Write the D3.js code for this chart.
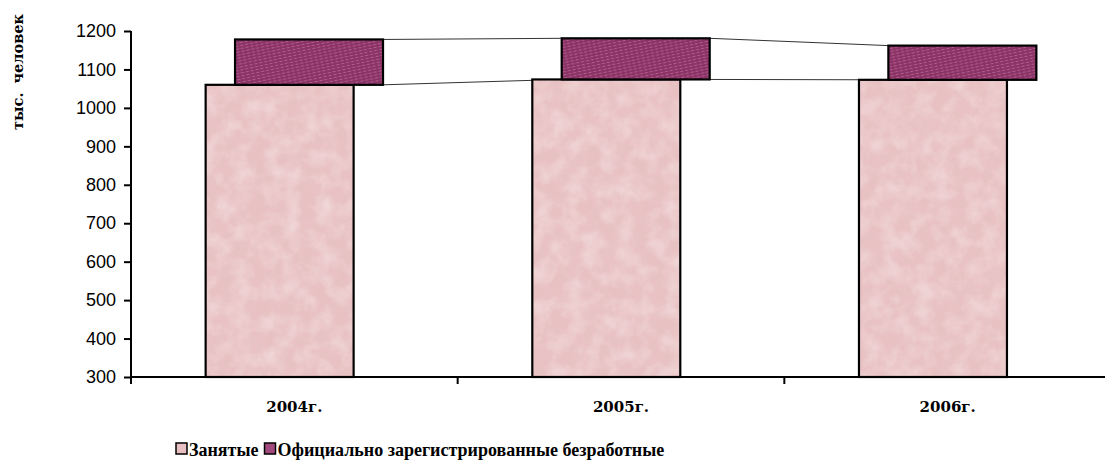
<!DOCTYPE html>
<html>
<head>
<meta charset="utf-8">
<script src="https://cdn.jsdelivr.net/npm/d3@7"></script>
<style>
  body { margin: 0; background: #fff; }
  svg { display: block; }
</style>
</head>
<body>
<div id="chart"></div>
<script>
// data
var years = ["2004г.", "2005г.", "2006г."];
var employed = [1060, 1074, 1073];
var unemployed = [118, 107, 89];
var yTicks = [300, 400, 500, 600, 700, 800, 900, 1000, 1100, 1200];
var seriesNames = ["Занятые", "Официально зарегистрированные безработные"];

var width = 1105, height = 460;
var plot = {left: 131, right: 1111, top: 31, bottom: 377};

var svg = d3.select("#chart").append("svg")
    .attr("width", width)
    .attr("height", height);

var defs = svg.append("defs");

// pink marble texture
var marble = defs.append("filter")
    .attr("id", "marble")
    .attr("x", 0).attr("y", 0).attr("width", 1).attr("height", 1);
marble.append("feTurbulence")
    .attr("type", "fractalNoise")
    .attr("baseFrequency", 0.06)
    .attr("numOctaves", 4)
    .attr("seed", 7)
    .attr("result", "noise");
marble.append("feColorMatrix")
    .attr("in", "noise")
    .attr("type", "matrix")
    .attr("values", "0 0 0 0 0.82  0 0 0 0 0.56  0 0 0 0 0.59  1.0 0 0 0 -0.4")
    .attr("result", "dark");
marble.append("feColorMatrix")
    .attr("in", "noise")
    .attr("type", "matrix")
    .attr("values", "0 0 0 0 0.96  0 0 0 0 0.85  0 0 0 0 0.85  0 0.8 0 0 -0.3")
    .attr("result", "light");
marble.append("feMerge").call(function(m) {
    m.append("feMergeNode").attr("in", "SourceGraphic");
    m.append("feMergeNode").attr("in", "dark");
    m.append("feMergeNode").attr("in", "light");
});

// purple dash pattern
var dash = defs.append("pattern")
    .attr("id", "dash")
    .attr("patternUnits", "userSpaceOnUse")
    .attr("width", 5).attr("height", 3)
    .attr("patternTransform", "rotate(-12)");
dash.append("rect").attr("width", 5).attr("height", 3).attr("fill", "#8a3466");
dash.append("rect").attr("x", 0.5).attr("y", 1).attr("width", 3).attr("height", 1).attr("fill", "#b65c90");

var x = d3.scaleBand()
    .domain(years)
    .range([plot.left, plot.right]);

var y = d3.scaleLinear()
    .domain([300, 1200])
    .range([plot.bottom, plot.top]);

var band = x.bandwidth();
var barW = band * 0.453,
    shift = band * 0.09,
    offset = (band - barW - shift) / 2;

var rows = years.map(function(d, i) {
    return {year: d, emp: employed[i], unemp: unemployed[i], total: employed[i] + unemployed[i]};
});

// series lines
var lines = svg.append("g").attr("class", "series-lines");
for (var i = 0; i < rows.length - 1; i++) {
    var a = rows[i], b = rows[i + 1];
    var x1 = x(a.year) + offset + shift + barW,
        x2 = x(b.year) + offset + shift;
    ["total", "emp"].forEach(function(k) {
        lines.append("line")
            .attr("x1", x1).attr("x2", x2)
            .attr("y1", y(a[k])).attr("y2", y(b[k]))
            .attr("stroke", "#333").attr("stroke-width", 1);
    });
}

// employed bars
var g = svg.append("g");
g.selectAll("rect.base").data(rows).enter().append("rect")
    .attr("class", "base")
    .attr("x", function(d) { return x(d.year) + offset; })
    .attr("y", function(d) { return y(d.emp); })
    .attr("width", barW)
    .attr("height", function(d) { return y(300) - y(d.emp); })
    .attr("fill", "#e8c1c2")
    .attr("filter", "url(#marble)");
g.selectAll("rect.base-edge").data(rows).enter().append("rect")
    .attr("class", "base-edge")
    .attr("x", function(d) { return x(d.year) + offset; })
    .attr("y", function(d) { return y(d.emp); })
    .attr("width", barW)
    .attr("height", function(d) { return y(300) - y(d.emp); })
    .attr("fill", "none")
    .attr("stroke", "#000")
    .attr("stroke-width", 2.2);

// unemployed bars
g.selectAll("rect.top").data(rows).enter().append("rect")
    .attr("class", "top")
    .attr("x", function(d) { return x(d.year) + offset + shift; })
    .attr("y", function(d) { return y(d.total); })
    .attr("width", barW)
    .attr("height", function(d) { return y(d.emp) - y(d.total); })
    .attr("fill", "url(#dash)")
    .attr("stroke", "#000")
    .attr("stroke-width", 2.2);

// axes
var yAxis = svg.append("g")
    .attr("transform", "translate(" + plot.left + ",0)")
    .call(d3.axisLeft(y).tickValues(yTicks).tickSize(7).tickPadding(8).tickFormat(d3.format("d")));
yAxis.select(".domain").attr("stroke-width", 2).attr("d", "M0," + y(300) + "V" + y(1200));
yAxis.selectAll(".tick line").attr("stroke-width", 2);
yAxis.selectAll("text")
    .style("font-family", "'Liberation Sans', Arial, sans-serif")
    .style("font-size", "18px")
    .attr("fill", "#000");

var xAxisG = svg.append("g")
    .attr("transform", "translate(0," + plot.bottom + ")");
xAxisG.append("line")
    .attr("x1", plot.left).attr("x2", width)
    .attr("stroke", "#000").attr("stroke-width", 2);
xAxisG.selectAll("line.tick").data(years.concat(["end"])).enter().append("line")
    .attr("class", "tick")
    .attr("x1", function(d, i) { return plot.left + i * band; })
    .attr("x2", function(d, i) { return plot.left + i * band; })
    .attr("y1", 0).attr("y2", 7)
    .attr("stroke", "#000").attr("stroke-width", 2);
xAxisG.selectAll("text").data(years).enter().append("text")
    .attr("x", function(d) { return x(d) + band / 2; })
    .attr("y", 35)
    .attr("text-anchor", "middle")
    .style("font-family", "'DejaVu Serif', serif")
    .style("font-weight", "bold")
    .style("font-size", "15px")
    .text(function(d) { return d; });

// y title
svg.append("text")
    .attr("transform", "translate(23,72) rotate(-90)")
    .attr("text-anchor", "middle")
    .style("font-family", "'DejaVu Serif', serif")
    .style("font-weight", "bold")
    .style("font-size", "14.5px")
    .style("word-spacing", "4px")
    .text("тыс. человек");

// legend
var legend = svg.append("g").attr("transform", "translate(176,456)");
var lx = 0;
seriesNames.forEach(function(name, i) {
    var item = legend.append("g").attr("transform", "translate(" + lx + ",0)");
    item.append("rect")
        .attr("x", 0).attr("y", -13)
        .attr("width", 11).attr("height", 11)
        .attr("fill", i === 0 ? "#e8c0c2" : "#a24a7e")
        .attr("stroke", "#000").attr("stroke-width", 1.5);
    var t = item.append("text")
        .attr("x", 13).attr("y", 0)
        .style("font-family", "'Liberation Serif', serif")
        .style("font-weight", "bold")
        .style("font-size", "18px")
        .text(name);
    lx += 13 + t.node().getComputedTextLength() + 6;
});
</script>
</body>
</html>
